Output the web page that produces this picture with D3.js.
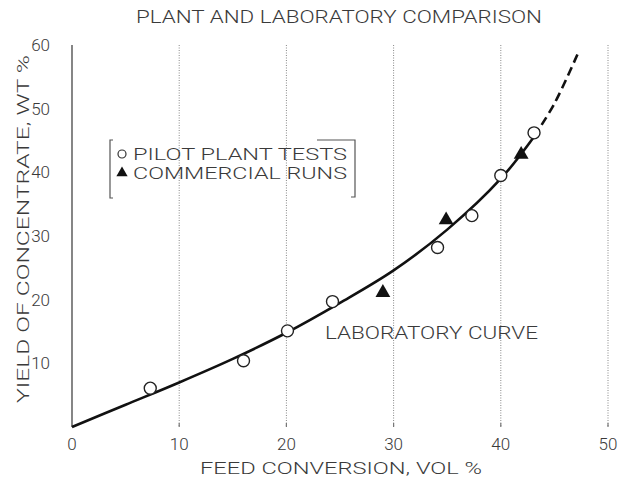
<!DOCTYPE html>
<html>
<head>
<meta charset="utf-8">
<script src="https://cdn.jsdelivr.net/npm/d3@7"></script>
<style>
  html, body { margin: 0; padding: 0; background: #fff; }
  svg { display: block; }
  text { font-family: Roboto, "Liberation Sans", sans-serif; font-weight: 300; fill: #3a3a3a; }
</style>
</head>
<body>
<svg id="chart" width="621" height="489"></svg>
<script>
// Pilot plant tests: [feed conversion vol %, yield wt %]
const pilotPlant = [
  [7.3, 6.1], [16.0, 10.4], [20.1, 15.1], [24.3, 19.7],
  [34.1, 28.2], [37.3, 33.2], [40.0, 39.5], [43.1, 46.2]
];
// Commercial runs
const commercialRuns = [
  [29.0, 21.1], [34.9, 32.5], [41.9, 42.8]
];
// Laboratory curve, measured part (solid) and extrapolation (dashed)
const labCurve = [
  [0, 0], [5, 3.5], [10, 7.0], [15, 10.7], [20, 14.8],
  [25, 19.5], [30, 24.6], [35, 31.0], [40, 39.0], [43.1, 45.6]
];
const labExtrapolation = [
  [43.1, 45.6], [45, 50.8], [47.2, 58.7]
];

const xTicks = [0, 10, 20, 30, 40, 50];
const yTicks = [10, 20, 30, 40, 50, 60];
const gridX = [10, 20, 30, 40, 50];

const titleText = "PLANT AND LABORATORY COMPARISON";
const xTitle = "FEED CONVERSION, VOL %";
const yTitle = "YIELD OF CONCENTRATE, WT %";
const legendLabels = ["PILOT PLANT TESTS", "COMMERCIAL RUNS"];
const curveLabel = "LABORATORY CURVE";

const svg = d3.select("#chart");
const x = d3.scaleLinear().domain([0, 50]).range([72, 608]);
const y = d3.scaleLinear().domain([0, 60]).range([427, 45]);

// Title
svg.append("text")
  .attr("x", 136).attr("y", 23)
  .attr("font-size", 18)
  .attr("textLength", 406).attr("lengthAdjust", "spacingAndGlyphs")
  .text(titleText);

// Dotted vertical grid lines
svg.append("g").selectAll("line").data(gridX).join("line")
  .attr("x1", d => x(d)).attr("x2", d => x(d))
  .attr("y1", y(60)).attr("y2", y(0))
  .attr("stroke", "#888").attr("stroke-width", 1)
  .attr("stroke-dasharray", "1,1.5");

// Small tick marks on the x axis
svg.append("g").selectAll("line").data(gridX).join("line")
  .attr("x1", d => x(d)).attr("x2", d => x(d))
  .attr("y1", y(0) - 4).attr("y2", y(0))
  .attr("stroke", "#777").attr("stroke-width", 1.2);

// Y axis line
svg.append("line")
  .attr("x1", x(0)).attr("x2", x(0))
  .attr("y1", y(60)).attr("y2", y(0))
  .attr("stroke", "#444").attr("stroke-width", 1.3);

// Y tick labels
svg.append("g").selectAll("text").data(yTicks).join("text")
  .attr("x", 50).attr("y", d => y(d) + 6)
  .attr("text-anchor", "end")
  .attr("font-size", 17)
  .text(d => d);

// X tick labels
svg.append("g").selectAll("text").data(xTicks).join("text")
  .attr("x", d => x(d)).attr("y", 450)
  .attr("text-anchor", "middle")
  .attr("font-size", 17)
  .text(d => d);

// Axis titles
svg.append("text")
  .attr("x", 200).attr("y", 474)
  .attr("font-size", 17)
  .attr("textLength", 282).attr("lengthAdjust", "spacingAndGlyphs")
  .text(xTitle);

svg.append("text")
  .attr("transform", "translate(29,403) rotate(-90)")
  .attr("font-size", 17)
  .attr("textLength", 348).attr("lengthAdjust", "spacingAndGlyphs")
  .text(yTitle);

// Laboratory curve
const line = d3.line().x(d => x(d[0])).y(d => y(d[1])).curve(d3.curveCatmullRom.alpha(0.5));
svg.append("path").datum(labCurve)
  .attr("d", line)
  .attr("fill", "none").attr("stroke", "#111").attr("stroke-width", 2.6);
svg.append("path").datum(labExtrapolation)
  .attr("d", line)
  .attr("fill", "none").attr("stroke", "#111").attr("stroke-width", 2.6)
  .attr("stroke-dasharray", "9,5");

// Pilot plant markers
svg.append("g").selectAll("circle").data(pilotPlant).join("circle")
  .attr("cx", d => x(d[0])).attr("cy", d => y(d[1]))
  .attr("r", 6)
  .attr("fill", "#fff").attr("stroke", "#222").attr("stroke-width", 1.4);

// Commercial run markers
const tri = d3.symbol().type(d3.symbolTriangle).size(95);
svg.append("g").selectAll("path").data(commercialRuns).join("path")
  .attr("transform", d => `translate(${x(d[0])},${y(d[1])})`)
  .attr("d", tri)
  .attr("fill", "#111");

// Legend with bracket frame
const lg = svg.append("g");
lg.append("path")
  .attr("d", "M113,140 H110 V198 H113")
  .attr("fill", "none").attr("stroke", "#555").attr("stroke-width", 1.2);
lg.append("path")
  .attr("d", "M317,140 H355 V197 H351")
  .attr("fill", "none").attr("stroke", "#555").attr("stroke-width", 1.2);
lg.append("circle")
  .attr("cx", 122).attr("cy", 154).attr("r", 4)
  .attr("fill", "#fff").attr("stroke", "#333").attr("stroke-width", 1.2);
lg.append("path")
  .attr("transform", "translate(122,173)")
  .attr("d", d3.symbol().type(d3.symbolTriangle).size(55))
  .attr("fill", "#111");
lg.selectAll("text.lbl").data(legendLabels).join("text")
  .attr("class", "lbl")
  .attr("x", 133).attr("y", (d, i) => 160 + i * 19)
  .attr("font-size", 17)
  .attr("textLength", 214).attr("lengthAdjust", "spacingAndGlyphs")
  .text(d => d);

// Curve label
svg.append("text")
  .attr("x", 325).attr("y", 339)
  .attr("font-size", 18)
  .attr("textLength", 213).attr("lengthAdjust", "spacingAndGlyphs")
  .text(curveLabel);
</script>
</body>
</html>
